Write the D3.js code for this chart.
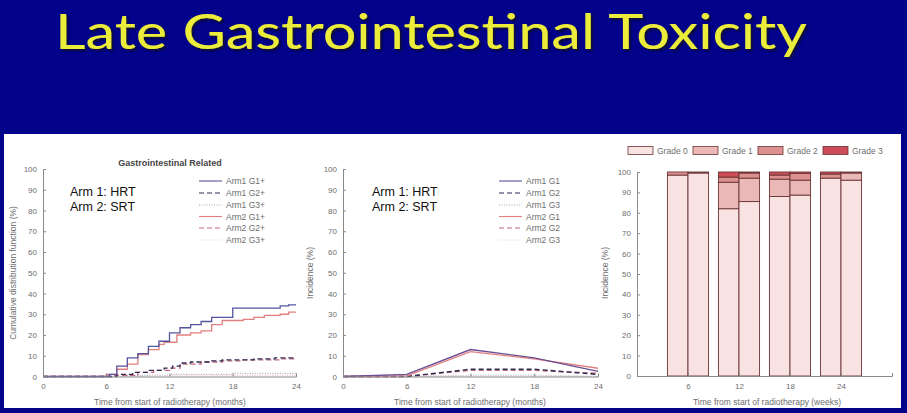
<!DOCTYPE html>
<html><head><meta charset="utf-8">
<script src="https://cdn.jsdelivr.net/npm/d3@7"></script>
<style>
html,body{margin:0;padding:0;background:#02028a;}
svg{display:block;}
</style></head>
<body>
<svg id="c" width="907" height="413"></svg>
<script>
// ---------- data ----------
const titleText = "Late Gastrointestinal Toxicity";
const yTicks = [0,10,20,30,40,50,60,70,80,90,100];
const monthTicks = [0,6,12,18,24];
const weekTicks = [6,12,18,24];

// Panel 1: cumulative distribution (step functions) [month, %]
const cdfArm1G1 = [[0,0],[6.3,1],[7,5],[8,9],[9,11],[10,14.5],[11,17],[12,21],[13,23.5],[14,25],[15,26.5],[16,28.5],[18,33],[22.5,34],[23.3,34.5],[24,34.5]];
const cdfArm2G1 = [[0,0],[6,1],[7,3.5],[8,6],[9,10.5],[10,13],[11,15.5],[11.5,16.5],[12.7,20],[14,21],[15,22],[16,25],[17,27],[19,27.5],[20,28.5],[21,29.5],[22.5,30],[23.3,31],[24,31]];
const cdfArm1G2 = [[0,0],[7,1],[8.5,2],[10,3],[11.5,4],[12.3,5],[13,6.5],[14,7],[16,7.5],[17,8],[20,8.5],[22,9],[24,9]];
const cdfArm2G2 = [[0,0],[6.5,0.5],[9,2],[10.5,3],[12,4],[13,6],[15,7],[17,7.5],[19,8],[22.5,8.5],[24,8.5]];
const cdfArm1G3 = [[0,0],[8,0.5],[12,1],[18,1.5],[24,1.5]];
const cdfArm2G3 = [[0,0],[10,0.5],[24,0.5]];
const cdfNames = ["Arm1 G1+","Arm1 G2+","Arm1 G3+","Arm2 G1+","Arm2 G2+","Arm2 G3+"];

// Panel 2: incidence at time points
const incMonths = [0,6,12,18,24];
const incArm1G1 = [0,1,13,9,2.5];
const incArm1G2 = [0,0,3.5,3.5,1];
const incArm1G3 = [0,0,0.5,0.5,0];
const incArm2G1 = [0,0.3,12,8.5,4];
const incArm2G2 = [0,0,3,3,1.5];
const incArm2G3 = [0,0,0.3,0.3,0];
const incNames = ["Arm1 G1","Arm1 G2","Arm1 G3","Arm2 G1","Arm2 G2","Arm2 G3"];

// Panel 3: stacked grade bars (weeks)
const barWeeks = [6,12,18,24];
const gradeNames = ["Grade 0","Grade 1","Grade 2","Grade 3"];
const arm1Grade0 = [98.5,82,88,97];
const arm1Grade1 = [0,13,8.5,0];
const arm1Grade2 = [1.5,2.5,2,2];
const arm1Grade3 = [0,2.5,1.5,1];
const arm2Grade0 = [99.5,85.5,88.7,96];
const arm2Grade1 = [0,11.5,7.3,3.5];
const arm2Grade2 = [0.5,2.5,3.3,0.5];
const arm2Grade3 = [0,0.5,0.7,0];

// ---------- drawing ----------
const svg = d3.select("#c");
const FONT = "'Liberation Sans', Arial, sans-serif";
const grayTxt = "#6e6e6e", axisCol = "#8a8a8a";

const defs = svg.append("defs");
const f = defs.append("filter").attr("id","sh").attr("x","-5%").attr("y","-20%").attr("width","110%").attr("height","150%");
f.append("feDropShadow").attr("dx",2).attr("dy",2).attr("stdDeviation",1.2).attr("flood-color","#10102a").attr("flood-opacity",0.9);

svg.append("rect").attr("x",0).attr("y",0).attr("width",907).attr("height",413).attr("fill","#02028a");
svg.append("text").attr("x",55).attr("y",49).attr("font-family","Lato, 'Open Sans', sans-serif")
  .attr("font-size",48).attr("fill","#ecec3a").attr("filter","url(#sh)")
  .attr("textLength",752).attr("lengthAdjust","spacingAndGlyphs").text(titleText);

svg.append("rect").attr("x",4).attr("y",134).attr("width",897).attr("height",274).attr("fill","#ffffff");

function yAxisDraw(g, y, x0) {
  const ax = d3.axisLeft(y).tickValues(yTicks).tickSize(-3).tickPadding(6);
  const a = g.append("g").attr("transform",`translate(${x0},0)`).call(ax);
  a.select(".domain").attr("stroke",axisCol);
  a.selectAll(".tick line").attr("stroke",axisCol);
  a.selectAll("text").attr("font-family",FONT).attr("font-size",8).attr("fill",grayTxt);
}
function xAxisDraw(g, x, y0, ticks) {
  const ax = d3.axisBottom(x).tickValues(ticks).tickSize(-3).tickPadding(7);
  const a = g.append("g").attr("transform",`translate(0,${y0})`).call(ax);
  a.select(".domain").attr("stroke",axisCol);
  a.selectAll(".tick line").attr("stroke",axisCol);
  a.selectAll("text").attr("font-family",FONT).attr("font-size",8).attr("fill",grayTxt);
}
function label(x,y,t,rot,size,weight,fill){
  const e = svg.append("text").attr("font-family",FONT).attr("font-size",size||8.5)
    .attr("fill",fill||grayTxt).attr("text-anchor","middle").attr("font-weight",weight||"normal").text(t);
  if(rot) e.attr("transform",`translate(${x},${y}) rotate(-90)`); else e.attr("x",x).attr("y",y);
  return e;
}

const lineStyles = [
  {c:"#55559f", d:null, w:1.1},
  {c:"#2e2e55", d:"5,3", w:1.1},
  {c:"#a9a9c6", d:"1,1.5", w:1},
  {c:"#e37f7f", d:null, w:1.1},
  {c:"#c7667a", d:"5,3", w:1.1},
  {c:"#f1cccc", d:"1,1.5", w:1}
];

function legendLines(g, x0, names){
  const rows = [181,193,205,216.5,228,240];
  names.forEach((n,i)=>{
    const s = lineStyles[i];
    g.append("line").attr("x1",x0).attr("x2",x0+23).attr("y1",rows[i]).attr("y2",rows[i])
      .attr("stroke",s.c).attr("stroke-width",s.w).attr("stroke-dasharray",s.d);
    g.append("text").attr("x",x0+27).attr("y",rows[i]+3).attr("font-family",FONT)
      .attr("font-size",8.5).attr("fill",grayTxt).text(n);
  });
}
function armText(g, x){
  g.append("text").attr("x",x).attr("y",196).attr("font-family",FONT).attr("font-size",12.5).attr("fill","#111").text("Arm 1: HRT");
  g.append("text").attr("x",x).attr("y",211).attr("font-family",FONT).attr("font-size",12.5).attr("fill","#111").text("Arm 2: SRT");
}

// ---- Panel 1 ----
{
  const g = svg.append("g");
  const x = d3.scaleLinear().domain([0,24]).range([43,296]);
  const y = d3.scaleLinear().domain([0,100]).range([376.5,169]);
  const line = d3.line().x(d=>x(d[0])).y(d=>y(d[1])).curve(d3.curveStepAfter);
  const series = [cdfArm1G1,cdfArm1G2,cdfArm1G3,cdfArm2G1,cdfArm2G2,cdfArm2G3];
  const order = [2,5,4,1,3,0];
  order.forEach(i=>{
    const s = lineStyles[i];
    g.append("path").datum(series[i]).attr("d",line).attr("fill","none")
      .attr("stroke",s.c).attr("stroke-width",s.w+0.2).attr("stroke-dasharray",s.d);
  });
  yAxisDraw(g,y,43);
  xAxisDraw(g,x,376.5,monthTicks);
  label(170,166,"Gastrointestinal Related",false,9,"bold","#444");
  label(170,405,"Time from start of radiotherapy (months)",false,8.5);
  label(16,273,"Cumulative distribution function (%)",true,8.5);
  legendLines(g,199,cdfNames);
  armText(g,70);
}

// ---- Panel 2 ----
{
  const g = svg.append("g");
  const x = d3.scaleLinear().domain([0,24]).range([343,598]);
  const y = d3.scaleLinear().domain([0,100]).range([376.5,169]);
  const line = d3.line().x((d,i)=>x(incMonths[i])).y(d=>y(d));
  const series = [incArm1G1,incArm1G2,incArm1G3,incArm2G1,incArm2G2,incArm2G3];
  const order = [2,5,4,1,3,0];
  order.forEach(i=>{
    const s = lineStyles[i];
    g.append("path").datum(series[i]).attr("d",line).attr("fill","none")
      .attr("stroke",i===0?"#6a4f95":s.c).attr("stroke-width",s.w+0.3).attr("stroke-dasharray",s.d);
  });
  yAxisDraw(g,y,343);
  xAxisDraw(g,x,376.5,monthTicks);
  label(470,405,"Time from start of radiotherapy (months)",false,8.5);
  label(313,273,"Incidence (%)",true,8.5);
  legendLines(g,499,incNames);
  armText(g,372);
}

// ---- Panel 3 ----
{
  const g = svg.append("g");
  const x = d3.scaleLinear().domain([0,30]).range([637,892]);
  const y = d3.scaleLinear().domain([0,100]).range([376,172]);
  const gradeColors = ["#f8e2e2","#ebb8b8","#dc9090","#cc4c58"];
  const bw = 2.42;
  const arms = [
    {off:-bw, vals:[arm1Grade0,arm1Grade1,arm1Grade2,arm1Grade3]},
    {off:0, vals:[arm2Grade0,arm2Grade1,arm2Grade2,arm2Grade3]}
  ];
  arms.forEach(arm=>{
    barWeeks.forEach((w,wi)=>{
      let cum = 0;
      arm.vals.forEach((arr,gi)=>{
        const v = arr[wi];
        if(v>0){
          g.append("rect").attr("x",x(w+arm.off)).attr("width",x(w+arm.off+bw)-x(w+arm.off))
            .attr("y",y(cum+v)).attr("height",y(cum)-y(cum+v))
            .attr("fill",gradeColors[gi]).attr("stroke","#6b3535").attr("stroke-width",0.9);
        }
        cum += v;
      });
    });
  });
  yAxisDraw(g,y,637);
  xAxisDraw(g,x,376,weekTicks);
  label(767,405,"Time from start of radiotherapy (weeks)",false,8.5);
  label(608,273,"Incidence (%)",true,8.5);
  const lx = [628,693,758,823];
  gradeNames.forEach((n,i)=>{
    g.append("rect").attr("x",lx[i]).attr("y",146.5).attr("width",25).attr("height",8)
      .attr("fill",gradeColors[i]).attr("stroke","#6b3535").attr("stroke-width",0.8);
    g.append("text").attr("x",lx[i]+29).attr("y",154).attr("font-family",FONT)
      .attr("font-size",8.5).attr("fill",grayTxt).text(n);
  });
}
</script>
</body></html>
